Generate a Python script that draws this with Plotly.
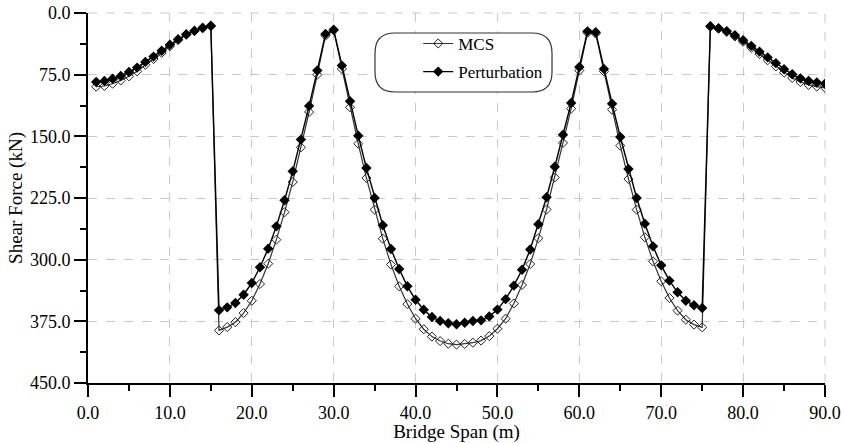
import plotly.graph_objects as go

span = list(range(1, 91))

perturbation = [
    84.0, 82.7, 80.0, 76.6, 71.7, 66.4, 59.5, 53.0, 46.0, 38.7,
    31.8, 25.7, 21.6, 18.0, 15.5, 361.6, 358.0, 352.7, 342.6, 328.4,
    309.3, 286.6, 259.5, 227.8, 192.6, 154.0, 113.0, 70.0, 25.5, 20.3,
    64.0, 107.4, 149.2, 188.5, 225.0, 258.2, 287.0, 311.3, 332.4, 348.8,
    360.9, 369.8, 374.5, 377.3, 378.6, 376.7, 374.6, 373.8, 369.0, 360.7,
    348.0, 331.6, 312.3, 287.7, 257.0, 224.0, 187.0, 148.0, 109.5, 65.7,
    22.3, 23.5, 68.0, 110.3, 150.8, 189.7, 225.0, 256.2, 283.8, 306.9,
    325.5, 339.7, 349.9, 355.5, 358.8, 16.0, 18.5, 22.0, 27.0, 33.0,
    40.0, 47.0, 54.0, 61.0, 68.5, 74.5, 79.5, 82.5, 84.5, 86.0,
]

mcs = [
    89.7, 88.8, 86.0, 82.0, 77.0, 71.0, 63.0, 56.0, 48.5, 40.5,
    33.0, 26.5, 22.0, 18.5, 16.0, 386.0, 382.0, 376.0, 365.0, 350.0,
    329.6, 305.0, 275.7, 242.4, 205.5, 163.4, 120.4, 75.0, 27.6, 21.0,
    68.0, 114.7, 159.0, 200.7, 239.2, 274.5, 306.0, 332.4, 354.0, 371.8,
    384.6, 393.6, 399.0, 402.2, 403.3, 402.5, 401.0, 398.4, 393.0, 384.0,
    371.8, 353.3, 330.8, 305.3, 274.0, 239.0, 200.0, 158.0, 116.4, 70.0,
    24.0, 25.0, 71.0, 117.6, 161.3, 201.9, 239.2, 272.8, 302.0, 326.3,
    346.6, 362.0, 373.0, 379.0, 382.3, 16.5, 19.0, 23.0, 28.5, 35.0,
    42.5, 50.0, 57.5, 65.0, 72.5, 79.0, 84.0, 87.5, 89.5, 91.0,
]

x_ticks = [0, 10, 20, 30, 40, 50, 60, 70, 80, 90]
y_ticks = [0, 75, 150, 225, 300, 375, 450]

FONT = "Liberation Serif"

fig = go.Figure()
fig.add_trace(go.Scatter(
    x=span, y=mcs, name="MCS", mode="lines+markers", legendgroup="a",
    line=dict(color="#333333", width=1.2),
    marker=dict(symbol="diamond-open", size=7, color="#222222", line=dict(width=1)),
))
fig.add_trace(go.Scatter(
    x=span, y=perturbation, name="Perturbation", mode="lines+markers", legendgroup="b",
    line=dict(color="#000000", width=1.4),
    marker=dict(symbol="diamond", size=8, color="#000000"),
))

# dashed grid lines on the top and right edges of the frame
fig.add_shape(type="line", xref="paper", yref="paper", x0=0, x1=1, y0=1, y1=1,
              line=dict(color="#c8c8c8", width=1, dash="dash"), layer="below")
fig.add_shape(type="line", xref="paper", yref="paper", x0=1, x1=1, y0=0, y1=1,
              line=dict(color="#c8c8c8", width=1, dash="dash"), layer="below")

# rounded legend frame (paper coords)
x0, x1, y0, y1 = 0.3894, 0.6296, 0.7865, 0.9459
rx, ry = 0.0271, 0.054
path = (f"M {x0+rx},{y1} L {x1-rx},{y1} Q {x1},{y1} {x1},{y1-ry} "
        f"L {x1},{y0+ry} Q {x1},{y0} {x1-rx},{y0} L {x0+rx},{y0} "
        f"Q {x0},{y0} {x0},{y0+ry} L {x0},{y1-ry} Q {x0},{y1} {x0+rx},{y1} Z")
fig.add_shape(type="path", path=path, xref="paper", yref="paper",
              line=dict(color="#333333", width=1.2), fillcolor="white", layer="above")

axis_common = dict(
    showline=True, linecolor="black", linewidth=2,
    ticks="outside", ticklen=12, tickwidth=2, tickcolor="black",
    showgrid=True, gridcolor="#c8c8c8", griddash="dash", gridwidth=1,
    zeroline=False, tickformat=".1f", ticklabeloverflow="allow",
    automargin=False,
    tickfont=dict(family=FONT, size=18, color="black"),
)

fig.update_layout(
    width=843, height=443,
    margin=dict(l=88, r=18, t=13, b=60),
    paper_bgcolor="white", plot_bgcolor="white",
    font=dict(family=FONT, size=17, color="black"),
    xaxis=dict(range=[0, 90], tickvals=x_ticks,
               minor=dict(dtick=5, tick0=0, ticks="outside", ticklen=6, tickwidth=2, tickcolor="black", showgrid=False),
               title=dict(text="Bridge Span (m)", font=dict(family=FONT, size=19), standoff=4),
               **axis_common),
    yaxis=dict(range=[450, 0], tickvals=y_ticks,
               minor=dict(dtick=37.5, tick0=0, ticks="outside", ticklen=6, tickwidth=2, tickcolor="black", showgrid=False),
               title=dict(text="Shear Force (kN)", font=dict(family=FONT, size=19), standoff=2),
               **axis_common),
    showlegend=True,
    legend=dict(x=0.448, y=0.965, xanchor="left", yanchor="top",
                bgcolor="rgba(0,0,0,0)", borderwidth=0,
                tracegroupgap=3, font=dict(family=FONT, size=17)),
)

fig.write_html("out.html")
